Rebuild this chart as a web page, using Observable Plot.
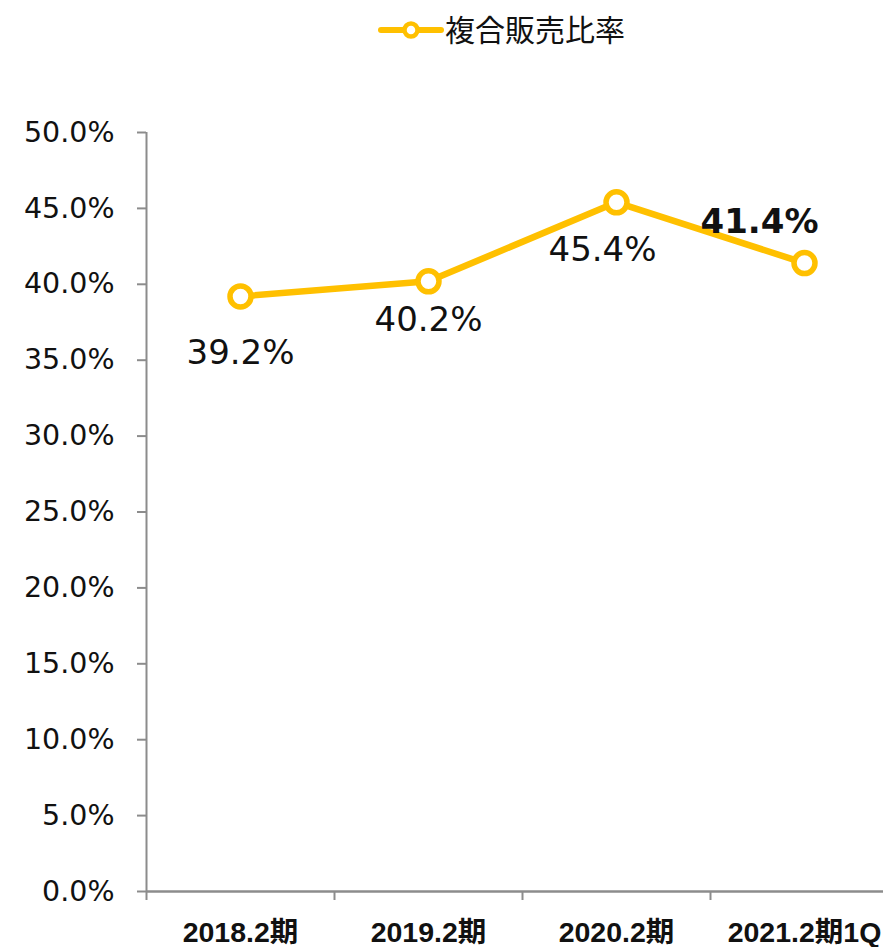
<!DOCTYPE html>
<html>
<head>
<meta charset="utf-8">
<script src="https://cdn.jsdelivr.net/npm/d3@7"></script>
<script src="https://cdn.jsdelivr.net/npm/@observablehq/plot@0.6"></script>
<style>
  html, body { margin: 0; padding: 0; background: #fff; }
  #legend { position: relative; height: 60px; width: 883px; }
  #legend svg { position: absolute; left: 378px; top: 18px; }
  #legend span { position: absolute; left: 445px; top: 8px; font-family: "Noto Sans CJK JP", sans-serif; font-size: 30px; color: #111; line-height: 40px; }
</style>
</head>
<body>
<div id="legend">
  <svg width="66" height="24"><line x1="3" y1="12" x2="63" y2="12" stroke="#FFC000" stroke-width="6" stroke-linecap="round"/><circle cx="33" cy="12" r="6.5" fill="#fff" stroke="#FFC000" stroke-width="4.5"/></svg>
  <span>複合販売比率</span>
</div>
<div id="chart"></div>
<script>
const categories = ["2018.2期", "2019.2期", "2020.2期", "2021.2期1Q"];
const values = [0.392, 0.402, 0.454, 0.414];
const yTicks = [0, 0.05, 0.10, 0.15, 0.20, 0.25, 0.30, 0.35, 0.40, 0.45, 0.50];
const seriesName = "複合販売比率";

const data = categories.map((c, i) => ({i, category: c, value: values[i], series: seriesName}));
const gray = "#8c8c8c";
const yellow = "#FFC000";
const fmt = d3.format(".1%");
const labelFont = "DejaVu Sans, Verdana, sans-serif";

const chart = Plot.plot({
  width: 883,
  height: 887,
  marginTop: 72,
  marginBottom: 56,
  marginLeft: 146,
  marginRight: 0,
  style: {background: "#fff", color: "#000", overflow: "visible"},
  x: {type: "linear", domain: [-0.5, 3.5], range: [146, 898], label: null},
  y: {domain: [0, 0.5], label: null},
  marks: [
    Plot.axisY({ticks: yTicks, tickSize: 9, tickPadding: 23, stroke: gray, strokeWidth: 2, tickFormat: fmt, label: null,
      fontFamily: labelFont, fontSize: 28.5, fill: "#111"}),
    Plot.axisX({ticks: [-0.5, 0.5, 1.5, 2.5], tickSize: 9, stroke: gray, strokeWidth: 2, tickFormat: () => "", label: null}),
    Plot.axisX({ticks: [0, 1, 2, 3], tickSize: 0, tickPadding: 30, tickFormat: i => categories[i], label: null,
      fontFamily: "Liberation Sans, Arial, Noto Sans CJK JP, sans-serif", fontSize: 28.5, fontWeight: "bold", fill: "#111"}),
    Plot.ruleX([-0.5], {stroke: gray, strokeWidth: 2}),
    Plot.ruleY([0], {stroke: gray, strokeWidth: 2.5}),
    Plot.line(data, {x: "i", y: "value", stroke: yellow, strokeWidth: 6.5}),
    Plot.dot(data, {x: "i", y: "value", r: 10.5, fill: "#fff", stroke: yellow, strokeWidth: 5.5}),
    Plot.text(data.filter(d => d.i === 0), {x: "i", y: "value", text: d => fmt(d.value), dy: 57,
      fontFamily: labelFont, fontSize: 34, fill: "#111"}),
    Plot.text(data.filter(d => d.i === 1), {x: "i", y: "value", text: d => fmt(d.value), dy: 39,
      fontFamily: labelFont, fontSize: 34, fill: "#111"}),
    Plot.text(data.filter(d => d.i === 2), {x: "i", y: "value", text: d => fmt(d.value), dx: -14, dy: 48,
      fontFamily: labelFont, fontSize: 34, fill: "#111"}),
    Plot.text(data.filter(d => d.i === 3), {x: "i", y: "value", text: d => fmt(d.value), dx: -45, dy: -41,
      fontFamily: labelFont, fontSize: 34, fontWeight: "bold", fill: "#111"})
  ]
});
document.getElementById("chart").appendChild(chart);
</script>
</body>
</html>
